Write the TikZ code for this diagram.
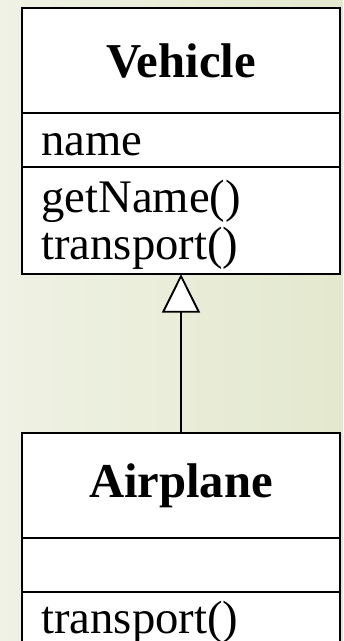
\documentclass[tikz,border=0pt]{standalone}
\usepackage{fontspec}
\setmainfont{Liberation Serif}
\usetikzlibrary{arrows.meta,positioning}
\definecolor{bgleft}{RGB}{239,242,228}
\definecolor{bgright}{RGB}{227,232,206}
\tikzset{
  compart/.style={
    draw,
    fill=white,
    line width=1.4pt,
    outer sep=0pt,
    inner xsep=14.5pt,
    inner ysep=0pt,
    text width=209.5pt,
    align=left,
    font=\fontsize{35}{35}\selectfont
  },
  classname/.style={
    compart,
    align=center,
    minimum height=78.75pt,
    font=\fontsize{36.5}{36.5}\selectfont\bfseries
  },
  members/.style={
    compart,
    text height=32.25pt,
    text depth=8.25pt
  },
  inherit/.style={-{Triangle[fill=white, length=29pt, width=28.5pt]}, line width=1.4pt}
}
\begin{document}
\begin{tikzpicture}
\useasboundingbox (0,0) rectangle (257.25pt,-480.75pt);
\clip (0,0) rectangle (257.25pt,-480.75pt);
\fill[left color=bgleft, right color=bgright] (0,0) rectangle (257.25pt,-480.75pt);

% Vehicle class
\node[classname, anchor=north west] (vehtitle) at (16.5pt,-6pt) {Vehicle};
\node[members, below=0pt of vehtitle] (vehattr) {name};
\node[members, text depth=43.5pt, minimum height=80.25pt, below=0pt of vehattr] (vehmeth) {getName()\\transport()};

% Airplane class
\node[classname, below=119.25pt of vehmeth] (airtitle) {Airplane};
\node[members, below=0pt of airtitle] (airattr) {};
\node[members, text height=30.75pt, text depth=9.75pt, below=0pt of airattr] (airmeth) {transport()};

% Generalization
\draw[inherit] (airtitle.north) -- (vehmeth.south);
\end{tikzpicture}
\end{document}
